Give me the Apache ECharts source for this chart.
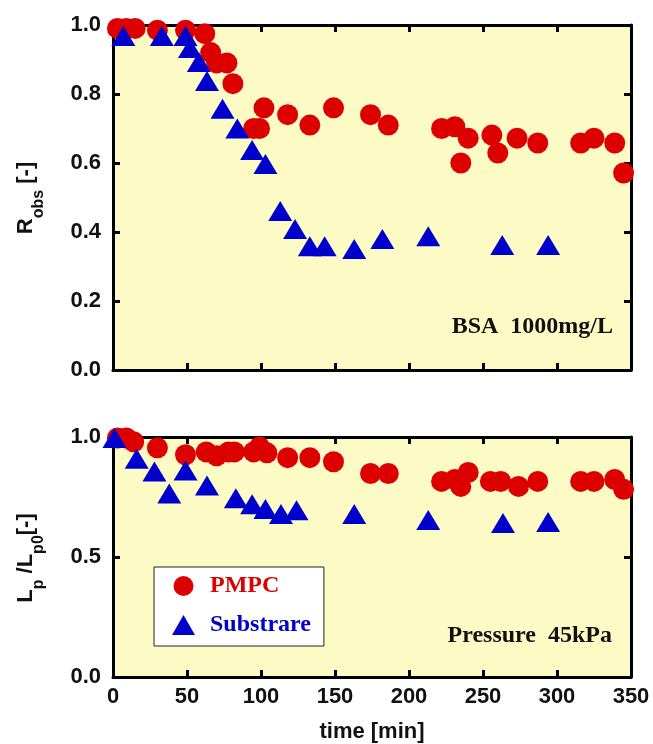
<!DOCTYPE html>
<html>
<head>
<meta charset="utf-8">
<script src="https://cdn.jsdelivr.net/npm/echarts@6/dist/echarts.min.js"></script>
<style>html,body{margin:0;padding:0;background:#fff;}#c{width:653px;height:744px;}</style>
</head>
<body>
<div id="c"></div>
<script>
// ---- data ----
var xTicks = [0, 50, 100, 150, 200, 250, 300, 350];
var topYTicks = [0.0, 0.2, 0.4, 0.6, 0.8, 1.0];
var botYTicks = [0.0, 0.5, 1.0];

var topPmpcT = [3, 9, 15, 30, 49, 62, 66, 70, 77, 81, 95, 99, 102, 118, 133, 149, 174, 186, 222, 231, 235, 240, 256, 260, 273, 287, 316, 325, 339, 345];
var topPmpcR = [0.99, 0.99, 0.99, 0.985, 0.985, 0.975, 0.92, 0.89, 0.89, 0.83, 0.70, 0.70, 0.76, 0.74, 0.71, 0.76, 0.74, 0.71, 0.70, 0.705, 0.60, 0.672, 0.681, 0.629, 0.672, 0.658, 0.658, 0.672, 0.658, 0.571];

var topSubT = [7, 33, 49, 52, 58, 63.5, 74, 84, 94, 103, 113, 123, 133, 143, 163, 182, 213, 263, 294];
var topSubR = [0.968, 0.968, 0.968, 0.933, 0.893, 0.838, 0.757, 0.70, 0.638, 0.597, 0.461, 0.409, 0.359, 0.359, 0.351, 0.38, 0.388, 0.362, 0.362];

var botPmpcT = [3, 9, 14, 30, 49, 63, 70, 78, 82, 95, 99, 104, 118, 133, 149, 174, 186, 222, 231, 235, 240, 255, 262, 274, 287, 316, 325, 339, 345];
var botPmpcL = [0.996, 0.996, 0.98, 0.955, 0.926, 0.938, 0.922, 0.938, 0.938, 0.938, 0.959, 0.934, 0.914, 0.914, 0.897, 0.848, 0.848, 0.815, 0.823, 0.794, 0.852, 0.815, 0.815, 0.794, 0.815, 0.815, 0.815, 0.823, 0.782];

var botSubT = [1, 16, 28, 38, 49, 63.5, 83, 94, 103, 113.5, 124, 163, 213, 263.5, 294];
var botSubL = [0.996, 0.909, 0.856, 0.765, 0.860, 0.798, 0.745, 0.720, 0.700, 0.679, 0.695, 0.679, 0.654, 0.642, 0.646];

var seriesNames = ['PMPC', 'Substrare'];
var RED = '#DD0000', BLUE = '#0000CC', BG = '#FCFBC6';

function zip(a, b) { return a.map(function (v, i) { return [v, b[i]]; }); }

var sans = '"Liberation Sans", Arial, sans-serif';
var serif = '"Liberation Serif", "Times New Roman", serif';

function xAx(grid, pos, labels) {
  return {
    type: 'value', gridIndex: grid, position: pos, min: 0, max: 350, interval: 50,
    axisLine: { show: true, onZero: false, lineStyle: { color: '#000', width: 3 } },
    axisTick: { show: true, inside: true, length: 7, lineStyle: { color: '#000', width: 3 } },
    axisLabel: { show: labels, margin: 9, color: '#111', fontFamily: sans, fontWeight: 'bold', fontSize: 22 },
    splitLine: { show: false }
  };
}
function yAx(grid, pos, labels, interval) {
  return {
    type: 'value', gridIndex: grid, position: pos, min: 0, max: 1, interval: interval,
    axisLine: { show: true, onZero: false, lineStyle: { color: '#000', width: 3 } },
    axisTick: { show: true, inside: true, length: 7, lineStyle: { color: '#000', width: 3 } },
    axisLabel: { show: labels, margin: 12, color: '#111', fontFamily: sans, fontWeight: 'bold', fontSize: 22,
      formatter: function (v) { return v.toFixed(1); } },
    splitLine: { show: false }
  };
}

var bottomX = xAx(1, 'bottom', true);
bottomX.name = 'time [min]';
bottomX.nameLocation = 'middle';
bottomX.nameGap = 44;
bottomX.nameTextStyle = { color: '#111', fontFamily: sans, fontWeight: 'bold', fontSize: 22 };

var richM = { fontFamily: sans, fontWeight: 'bold', fontSize: 22, lineHeight: 42, fill: '#111' };
var richS = { fontFamily: sans, fontWeight: 'bold', fontSize: 16, lineHeight: 16, verticalAlign: 'bottom', fill: '#111' };

var option = {
  animation: false,
  backgroundColor: '#fff',
  grid: [
    { left: 113, top: 25, width: 518, height: 345, show: true, backgroundColor: BG, borderWidth: 0 },
    { left: 113, top: 437, width: 518, height: 243, show: true, backgroundColor: BG, borderWidth: 0 }
  ],
  xAxis: [xAx(0, 'bottom', false), xAx(0, 'top', false), bottomX, xAx(1, 'top', false)],
  yAxis: [yAx(0, 'left', true, 0.2), yAx(0, 'right', false, 0.2), yAx(1, 'left', true, 0.5), yAx(1, 'right', false, 0.5)],
  legend: {
    orient: 'vertical', left: 154, top: 567,
    backgroundColor: '#fff', borderColor: '#222', borderWidth: 1, borderRadius: 0,
    padding: [7, 13, 9, 18],
    itemWidth: 23, itemHeight: 20, itemGap: 15,
    textStyle: { fontFamily: serif, fontWeight: 'bold', fontSize: 24, padding: [0, 0, 0, 10] },
    data: [
      { name: seriesNames[0], icon: 'circle', textStyle: { color: RED } },
      { name: seriesNames[1], icon: 'triangle', textStyle: { color: BLUE } }
    ]
  },
  series: [
    { name: seriesNames[0], type: 'scatter', xAxisIndex: 0, yAxisIndex: 0, symbol: 'circle', symbolSize: 21, clip: false,
      itemStyle: { color: RED, opacity: 1 }, data: zip(topPmpcT, topPmpcR) },
    { name: seriesNames[1], type: 'scatter', xAxisIndex: 0, yAxisIndex: 0, symbol: 'triangle', symbolSize: [24, 20], clip: false,
      itemStyle: { color: BLUE, opacity: 1 }, data: zip(topSubT, topSubR) },
    { name: seriesNames[0], type: 'scatter', xAxisIndex: 2, yAxisIndex: 2, symbol: 'circle', symbolSize: 21, clip: false,
      itemStyle: { color: RED, opacity: 1 }, data: zip(botPmpcT, botPmpcL) },
    { name: seriesNames[1], type: 'scatter', xAxisIndex: 2, yAxisIndex: 2, symbol: 'triangle', symbolSize: [24, 20], clip: false,
      itemStyle: { color: BLUE, opacity: 1 }, data: zip(botSubT, botSubL) }
  ],
  graphic: [
    { type: 'text', x: 613, y: 327, z: 100,
      style: { text: 'BSA  1000mg/L', align: 'right', verticalAlign: 'middle', font: 'bold 24px ' + serif, fill: '#111' } },
    { type: 'text', x: 612, y: 636, z: 100,
      style: { text: 'Pressure  45kPa', align: 'right', verticalAlign: 'middle', font: 'bold 24px ' + serif, fill: '#111' } },
    { type: 'text', x: 26, y: 198, rotation: Math.PI / 2, z: 100,
      style: { text: '{m|R}{s|obs}{m| [-]}', align: 'center', verticalAlign: 'middle', rich: { m: richM, s: richS } } },
    { type: 'text', x: 26, y: 558, rotation: Math.PI / 2, z: 100,
      style: { text: '{m|L}{s|p}{m| /L}{s|p0}{m|[-]}', align: 'center', verticalAlign: 'middle', rich: { m: richM, s: richS } } }
  ]
};

var chart = echarts.init(document.getElementById('c'), null, { renderer: 'canvas' });
chart.setOption(option);
</script>
</body>
</html>
